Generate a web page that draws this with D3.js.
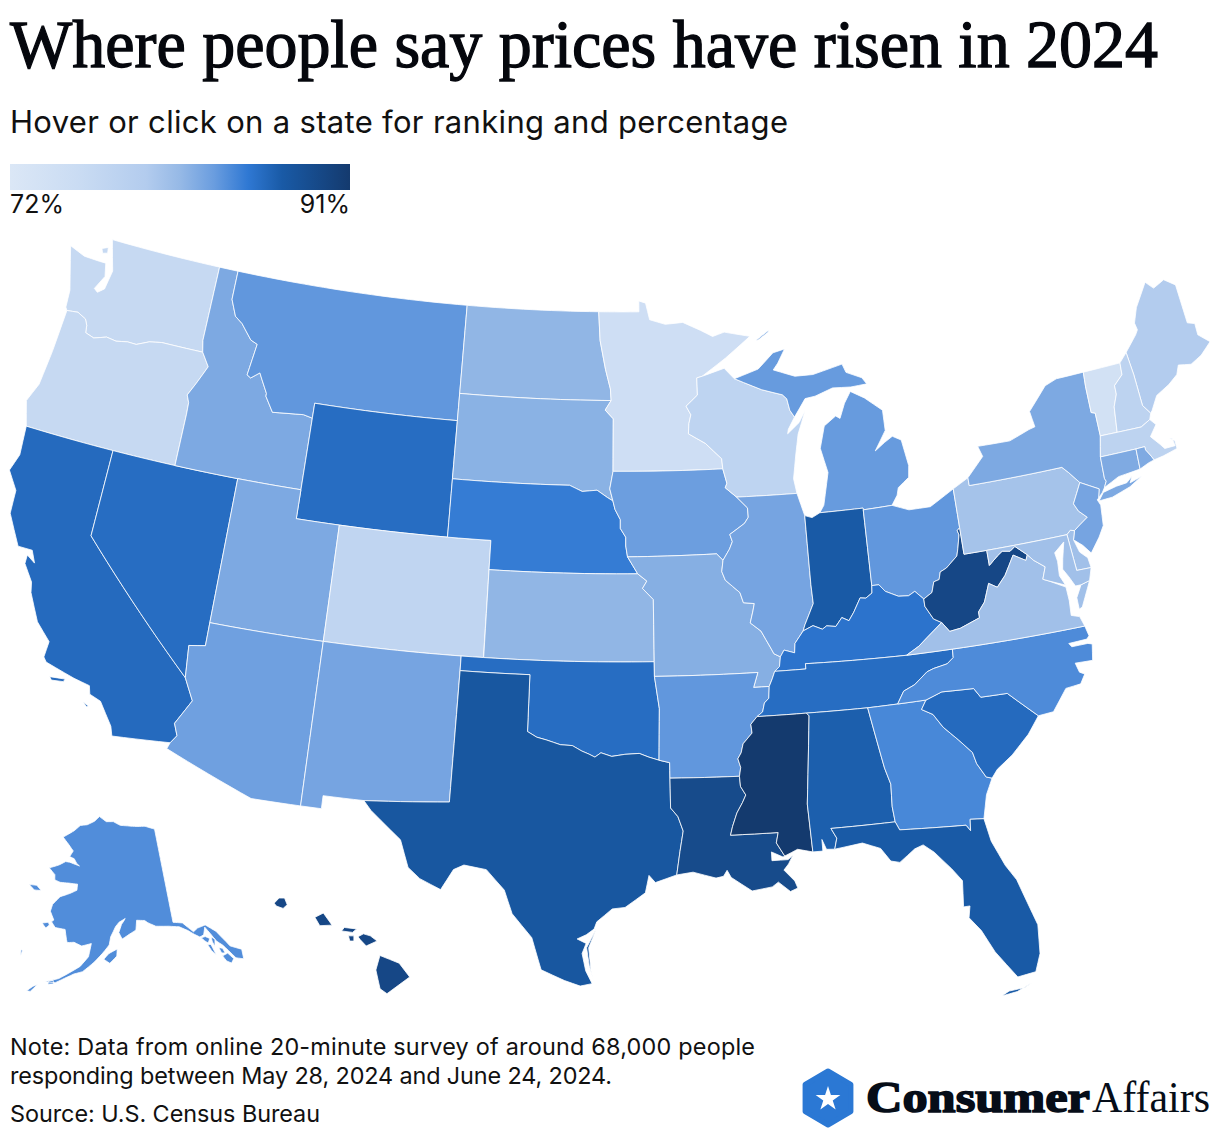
<!DOCTYPE html>
<html><head><meta charset="utf-8">
<script src="https://cdn.jsdelivr.net/npm/d3@7"></script>
<style>html,body{margin:0;padding:0;background:#fff}svg{display:block}</style></head>
<body><svg id="c" width="1220" height="1138"></svg>
<script>
const titleText="Where people say prices have risen in 2024";
const subtitleText="Hover or click on a state for ranking and percentage";
const noteLines=["Note: Data from online 20-minute survey of around 68,000 people","responding between May 28, 2024 and June 24, 2024."];
const noteWidths=[745,602];
const sourceText="Source: U.S. Census Bureau";
const legendLabels=["72%","91%"];
const legendDomain=[72,91];
const colorStops=[72,75.8,79.6,81.5,83.4,85.3,87.2,91];
const colorRange=["#dbe7f6","#cadcf3","#b3ccee","#96b9e6","#6a9ddf","#2f78d3","#195aa6","#143a6e"];
const stateCodes=["WA","OR","CA","NV","ID","MT","WY","UT","CO","AZ","NM","ND","SD","NE","KS","OK","TX","MN","IA","MO","AR","LA","WI","IL","MI","IN","OH","KY","TN","MS","AL","GA","FL","SC","NC","WV","VA","PA","NY","NJ","DE","MD","ME","VT","NH","MA","CT","RI","AK","HI"];
const stateValues=[76.5,76.5,86.2,86,82.6,83.7,86,82.6,77.5,83.2,82.9,81.7,82,85.1,81.7,86,87.6,75,83.3,82.2,83.7,89,77.7,82.9,83.5,87.2,83.7,85.6,86,91,86.9,84.5,87.2,86.2,84.3,89.4,80.8,80.5,82.6,82.9,80.8,80.8,79.6,74,78,78,82.5,82.5,84.2,89.4];

// shared boundaries, longitude/latitude
const stCroix=[[-92.02,46.71],[-92.29,46.66],[-92.29,46.07],[-92.87,45.7],[-92.65,45.4],[-92.76,45.1],[-92.8,44.75],[-92.0,44.4],[-91.25,43.85],[-91.22,43.5]];
const wiIa=[[-91.22,43.5],[-91.06,43.0],[-91.15,42.85],[-90.64,42.51]];
const iaIl=[[-90.64,42.51],[-90.16,42.12],[-90.15,41.8],[-90.34,41.6],[-91.05,41.25],[-90.95,41.0],[-91.1,40.75],[-91.42,40.38]];
const moIl=[[-91.42,40.38],[-91.5,40.0],[-91.36,39.7],[-90.73,39.25],[-90.6,38.9],[-90.12,38.85],[-90.2,38.6],[-90.35,38.2],[-89.9,37.9],[-89.52,37.3],[-89.4,37.1],[-89.13,36.98]];
const moKyTn=[[-89.13,36.98],[-89.2,36.65],[-89.42,36.5],[-89.55,36.25],[-89.7,36.0]];
const arTn=[[-89.7,36.0],[-89.75,35.6],[-89.95,35.45],[-90.05,35.15],[-90.3,35.0]];
const arMs=[[-90.3,35.0],[-90.58,34.75],[-90.55,34.45],[-90.95,34.1],[-91.05,33.8],[-91.2,33.6],[-91.1,33.3],[-91.17,33.0]];
const laMs=[[-91.17,33.0],[-91.15,32.65],[-90.95,32.35],[-91.1,32.1],[-91.35,31.75],[-91.55,31.3],[-91.65,31.0],[-89.73,31.0],[-89.83,30.65],[-89.53,30.18]];
const ilKy=[[-89.13,36.98],[-88.95,37.2],[-88.5,37.08],[-88.45,37.4],[-88.05,37.8]];
const inKy=[[-88.05,37.8],[-87.6,37.95],[-87.2,37.8],[-87.0,37.9],[-86.6,37.85],[-86.3,38.13],[-86.0,38.0],[-85.75,38.27],[-85.4,38.73],[-85.15,38.7],[-84.85,38.85],[-84.82,39.1]];
const ohKy=[[-84.82,39.1],[-84.5,39.1],[-84.25,38.85],[-83.7,38.63],[-83.25,38.6],[-82.95,38.72],[-82.6,38.42]];
const ohWv=[[-82.6,38.42],[-82.2,38.6],[-82.05,38.95],[-81.8,39.0],[-81.7,39.25],[-81.4,39.35],[-80.85,39.7],[-80.75,39.95],[-80.6,40.4],[-80.65,40.55],[-80.52,40.64]];
const kyWv=[[-82.6,38.42],[-82.6,38.17],[-82.3,37.7],[-81.97,37.54]];
const kyVa=[[-81.97,37.54],[-82.7,37.1],[-83.1,36.85],[-83.68,36.6]];
const kyTn=[[-83.68,36.6],[-86.5,36.65],[-88.07,36.68],[-88.07,36.5],[-89.42,36.5]];
const tnVa=[[-83.68,36.6],[-81.68,36.59]];
const vaNc=[[-81.68,36.59],[-75.87,36.55]];
const tnNc=[[-81.68,36.59],[-81.7,36.3],[-82.0,36.12],[-82.6,36.03],[-82.9,35.95],[-83.5,35.57],[-84.0,35.4],[-84.32,34.99]];
const tnGa=[[-84.32,34.99],[-85.6,34.98]];
const tnAl=[[-85.6,34.98],[-88.2,35.0]];
const tnMs=[[-88.2,35.0],[-90.3,35.0]];
const ncGa=[[-84.32,34.99],[-83.11,35.0]];
const ncSc=[[-83.11,35.0],[-82.4,35.2],[-81.04,35.15],[-80.8,34.82],[-79.67,34.8],[-78.55,33.86]];
const gaSc=[[-83.11,35.0],[-83.35,34.7],[-82.9,34.48],[-82.55,34.0],[-82.0,33.5],[-81.5,33.0],[-81.4,32.6],[-81.1,32.1],[-80.87,32.03]];
const gaAl=[[-85.6,34.98],[-85.18,32.87],[-85.0,32.3],[-85.05,31.53],[-85.0,31.0]];
const gaFl=[[-85.0,31.0],[-84.86,30.71],[-82.2,30.57],[-82.05,30.36],[-82.0,30.75],[-81.45,30.7]];
const alFl=[[-85.0,31.0],[-87.6,31.0],[-87.4,30.65],[-87.52,30.28]];
const alMs=[[-88.2,35.0],[-88.1,34.9],[-88.47,31.9],[-88.4,30.25]];
const inIl=[[-88.05,37.8],[-87.95,38.0],[-87.5,38.7],[-87.53,39.35],[-87.53,41.71]];
const inOh=[[-84.82,39.1],[-84.8,41.7]];
const inMi=[[-86.82,41.76],[-84.8,41.76]];
const ohMi=[[-84.8,41.7],[-83.45,41.73]];
const ohPa=[[-80.52,41.98],[-80.52,40.64]];
const paWv=[[-80.52,40.64],[-80.52,39.72],[-79.48,39.72]];
const paMd=[[-79.48,39.72],[-75.79,39.72]];
const paDe=[[-75.79,39.72],[-75.6,39.84],[-75.42,39.8]];
const paNj=[[-75.42,39.8],[-75.13,39.95],[-74.72,40.15],[-75.05,40.42],[-75.2,40.7],[-74.7,41.36]];
const paNy=[[-74.7,41.36],[-75.1,41.77],[-75.36,42.0],[-79.76,42.0],[-79.76,42.27],[-80.52,41.98]];
const nyNj=[[-74.7,41.36],[-73.9,41.0],[-74.02,40.7]];
const wvMd=[[-77.72,39.32],[-78.2,39.68],[-78.45,39.55],[-78.8,39.6],[-79.05,39.47],[-79.48,39.2],[-79.48,39.72]];
const wvVa=[[-81.97,37.54],[-81.68,37.2],[-81.2,37.25],[-80.3,37.5],[-80.3,37.7],[-79.97,38.0],[-79.65,38.6],[-79.3,38.42],[-78.87,38.77],[-78.35,39.4],[-77.83,39.14],[-77.72,39.32]];
const potomac=[[-76.32,37.98],[-77.0,38.3],[-77.25,38.4],[-77.04,38.8],[-77.5,39.1],[-77.72,39.32]];
const miWi=[[-87.6,45.1],[-87.8,45.35],[-87.9,45.75],[-88.1,45.9],[-89.1,46.13],[-90.42,46.57]];
const ndMn=[[-96.56,45.93],[-96.6,46.33],[-96.85,47.0],[-97.14,48.0],[-97.23,49.0]];
const sdMn=[[-96.45,43.5],[-96.45,45.3],[-96.85,45.6],[-96.56,45.93]];
const mnIa=[[-96.45,43.5],[-91.22,43.5]];
const iaMo=[[-91.42,40.38],[-91.7,40.61],[-95.77,40.58]];
const neIa=[[-95.77,40.58],[-95.85,40.95],[-95.85,41.25],[-96.1,41.55],[-96.1,41.85],[-96.35,42.2],[-96.45,42.49]];
const sdIa=[[-96.45,42.49],[-96.6,42.9],[-96.45,43.5]];
const sdNe=[[-96.45,42.49],[-96.7,42.6],[-97.2,42.85],[-97.9,42.8],[-98.5,43.0],[-104.05,43.0]];
const neMo=[[-95.31,40.0],[-95.77,40.58]];
const ksMo=[[-95.31,40.0],[-94.9,39.75],[-95.1,39.5],[-94.62,39.12],[-94.62,37.0]];
const moAr=[[-94.62,36.5],[-90.15,36.5],[-90.37,36.0],[-89.7,36.0]];
const arOk=[[-94.62,36.5],[-94.43,35.4],[-94.48,33.64]];
const arTx=[[-94.48,33.64],[-94.04,33.55],[-94.04,33.02]];
const arLa=[[-94.04,33.02],[-91.17,33.0]];
const txLa=[[-94.04,33.02],[-94.04,32.0],[-93.75,31.7],[-93.55,31.2],[-93.7,30.5],[-93.85,29.7]];
const redRiver=[[-94.48,33.64],[-94.9,33.75],[-95.3,33.88],[-95.9,33.85],[-96.45,33.78],[-96.9,33.9],[-97.15,33.75],[-97.4,33.85],[-97.7,33.95],[-98.1,34.13],[-98.6,34.15],[-99.2,34.3],[-99.6,34.38],[-100.0,34.56]];
const idMt=[[-116.05,49.0],[-116.05,48.0],[-115.7,47.45],[-115.3,47.25],[-114.7,46.75],[-114.35,46.65],[-114.45,46.1],[-114.55,45.55],[-114.35,45.47],[-113.95,45.7],[-113.8,45.5],[-113.45,45.05],[-113.45,44.95],[-113.0,44.45],[-112.3,44.5],[-111.5,44.55],[-111.05,44.48]];
const idOr=[[-116.92,46.0],[-116.5,45.55],[-116.9,44.9],[-117.2,44.45],[-117.05,44.2],[-117.03,43.8],[-117.03,42.0]];
const orWa=[[-123.95,46.2],[-123.4,46.25],[-122.95,46.1],[-122.8,45.9],[-122.75,45.65],[-122.3,45.55],[-121.7,45.7],[-121.2,45.65],[-120.65,45.73],[-120.2,45.72],[-119.6,45.92],[-119.0,46.0],[-116.92,46.0]];
const caNv=[[-120,42],[-120,39],[-114.63,35.0]];
const nvAz=[[-114.05,37],[-114.05,36.2],[-114.75,36.1],[-114.63,35.0]];
const azCa=[[-114.63,35.0],[-114.15,34.27],[-114.7,33.4],[-114.5,33.0],[-114.72,32.72]];
const vtNh=[[-71.5,45.01],[-71.55,44.6],[-72.03,44.3],[-72.05,44.0],[-72.3,43.6],[-72.46,42.73]];
const nyVt=[[-73.34,45.01],[-73.4,44.5],[-73.43,43.6],[-73.25,43.55],[-73.27,42.75]];
const meNh=[[-71.08,45.3],[-71.0,44.5],[-70.98,43.4],[-70.7,43.07]];
const maNh=[[-72.46,42.73],[-71.3,42.7],[-70.82,42.87]];
const maRi=[[-71.8,42.02],[-71.38,42.02],[-71.38,41.9],[-71.2,41.65],[-71.12,41.5]];
const ctRi=[[-71.8,42.02],[-71.85,41.32]];
const maCt=[[-73.5,42.05],[-71.8,42.02]];
const nyCt=[[-73.5,42.05],[-73.55,41.3],[-73.5,41.2],[-73.65,41.0]];
const R=a=>a.slice().reverse();
const J=(...p)=>p.flat();

const rings={
WA:[J([[-124.73,48.38],[-123.9,48.17],[-123.1,48.15],[-122.75,48.15],[-122.6,47.7],[-122.95,47.2],[-122.75,47.1],[-122.45,47.28],[-122.38,47.6],[-122.3,47.95],[-122.5,48.4],[-122.76,49.0],[-117.03,49.0],[-117.04,46.4]],R(orWa),[[-124.05,46.3],[-124.1,46.9],[-124.73,48.38]]),[[-123.15,48.6],[-122.85,48.7],[-122.8,48.5],[-123.05,48.45]]],
OR:[J([[-124.2,42],[-124.55,42.84],[-124.2,43.5],[-124.05,44.7]],orWa,idOr,[[-120,42]])],
CA:[J(caNv,azCa,[[-117.12,32.53],[-117.25,32.85],[-117.9,33.6],[-118.4,33.75],[-118.5,34.03],[-119.2,34.15],[-120.5,34.45],[-120.65,34.6],[-120.6,35.15],[-121.3,35.7],[-121.9,36.6],[-122.0,36.95],[-122.5,37.5],[-122.5,37.8],[-122.1,37.6],[-122.35,38.0],[-123.0,38.0],[-123.75,39.0],[-123.8,39.8],[-124.35,40.4],[-124.1,41.0],[-124.2,42]]),[[-120.2,34.0],[-119.55,34.05],[-119.6,33.95],[-120.1,33.9]],[[-118.6,33.45],[-118.35,33.35],[-118.4,33.3]]],
NV:[J(caNv,R(nvAz),[[-114.04,42]])],
ID:[J([[-117.03,49.0]],idMt,[[-111.05,42.0]],R(idOr),[[-117.04,46.4]])],
MT:[J(idMt,[[-111.05,45.0],[-104.05,45.0],[-104.05,49.0]])],
WY:[[[-111.05,45],[-104.05,45],[-104.05,41],[-111.05,41]]],
UT:[[[-114.04,42],[-111.05,42],[-111.05,41],[-109.05,41],[-109.05,37],[-114.05,37]]],
CO:[[[-109.05,41],[-102.05,41],[-102.05,37],[-109.05,37]]],
AZ:[J([[-109.05,37],[-109.05,31.33],[-111.07,31.33],[-114.81,32.5]],R(azCa),R(nvAz))],
NM:[[[-109.05,37],[-103.02,37],[-103.06,32.0],[-106.53,31.78],[-108.2,31.78],[-108.2,31.33],[-109.05,31.33]]],
ND:[J(ndMn,[[-104.05,49],[-104.05,45.94]])],
SD:[J([[-104.05,45.94]],R(sdMn),R(sdIa),sdNe)],
NE:[J(sdNe,[[-104.05,41],[-102.05,41],[-102.05,40]],neMo,neIa)],
KS:[J([[-102.05,40]],ksMo,[[-102.04,37]])],
OK:[J([[-103.02,37],[-94.62,37]],arOk,redRiver,[[-100,36.5],[-103.02,36.5]])],
TX:[J([[-103.02,36.5],[-100,36.5]],R(redRiver),arTx,txLa,[[-94.7,29.45],[-94.95,29.7],[-95.1,29.1],[-95.9,28.6],[-96.4,28.55],[-97.0,28.1],[-97.1,27.85],[-97.4,27.65],[-97.75,27.5],[-97.4,27.35],[-97.55,27.0],[-97.4,26.4],[-97.15,25.96],[-97.6,25.87],[-98.2,26.05],[-99.1,26.4],[-99.5,27.5],[-100.3,28.3],[-100.65,29.1],[-101.4,29.77],[-102.3,29.88],[-102.7,29.7],[-103.15,28.98],[-104.0,29.3],[-104.5,29.65],[-104.9,30.57],[-106.2,31.47],[-106.53,31.78],[-103.06,32.0]]),[[-97.02,27.85],[-97.3,27.2],[-97.2,26.4],[-97.1,26.05],[-97.27,26.6],[-97.38,27.2]]],
MN:[J([[-97.23,49.0],[-95.15,49.0],[-95.15,49.38],[-94.8,49.3],[-94.6,48.72],[-93.8,48.55],[-92.9,48.6],[-92.0,48.3],[-91.4,48.07],[-90.8,48.2],[-89.5,48.0],[-90.8,47.3]],stCroix,R(mnIa),sdMn,ndMn)],
IA:[J(mnIa,wiIa,iaIl,iaMo,neIa,sdIa)],
MO:[J(R(iaMo),moIl,moKyTn,R(moAr),[[-94.62,37]],R(ksMo),neMo)],
AR:[J(moAr,arTn,arMs,R(arLa),R(arTx),R(arOk))],
LA:[J(arLa,laMs,[[-89.6,30.15],[-90.05,30.35],[-90.05,30.05],[-89.7,30.05],[-89.4,30.05],[-89.2,30.2],[-89.4,29.9],[-89.6,29.7],[-89.2,29.3],[-89.1,29.05],[-89.4,28.95],[-89.85,29.3],[-90.1,29.15],[-90.9,29.05],[-91.3,29.3],[-91.7,29.55],[-91.85,29.8],[-92.0,29.6],[-92.3,29.55],[-93.2,29.78]],R(txLa))],
WI:[J([[-90.42,46.57]],R(miWi),[[-87.95,44.7],[-88.0,44.55],[-87.4,44.9],[-87.05,45.3],[-87.5,44.5],[-87.7,43.8],[-87.9,43.0],[-87.8,42.49]],R(iaIl.slice(0,1)),R(wiIa),R(stCroix),[[-90.9,46.95]])],
IL:[J([[-87.8,42.49]],R(inIl),R(ilKy),R(moIl),R(iaIl))],
IN:[J(inIl,[[-87.2,41.62]],inMi,R(inOh),R(inKy))],
OH:[J(inOh,ohMi,[[-82.7,41.5],[-81.7,41.5]],ohPa,R(ohWv),R(ohKy))],
KY:[J(inKy,ohKy,kyWv,kyVa,kyTn,R(moKyTn.slice(0,2)),ilKy)],
TN:[J(kyTn,[[-89.55,36.25]],arTn,R(tnMs),R(tnAl),R(tnGa),R(tnNc),R(tnVa))],
MS:[J(tnMs,arMs,laMs,[[-89.0,30.38]],R(alMs))],
AL:[J(tnAl,alMs,[[-88.0,30.25],[-88.0,30.65],[-87.85,30.3]],R(alFl),R(gaAl))],
GA:[J(R(tnGa),ncGa,gaSc,[[-81.2,31.5]],R(gaFl),R(gaAl))],
FL:[J(alFl,[[-86.4,30.4],[-85.7,30.15],[-85.35,29.68],[-85.0,29.6],[-84.35,30.0],[-84.0,30.1],[-83.6,29.8],[-83.0,29.15],[-82.65,28.7],[-82.75,27.8],[-82.5,27.8],[-82.6,27.4],[-82.2,26.9],[-81.8,26.1],[-81.1,25.12],[-80.4,25.2],[-80.13,25.8],[-80.03,26.8],[-80.55,28.45],[-80.9,29.0],[-81.3,29.9]],R(gaFl)),[[-81.8,24.55],[-81.2,24.62],[-80.6,24.85],[-80.9,24.72],[-81.5,24.68]]],
SC:[J(ncSc,[[-79.1,33.3],[-79.9,32.7],[-80.6,32.3]],R(gaSc))],
NC:[J(vaNc,[[-75.78,36.2],[-75.9,36.1],[-76.7,36.08],[-76.6,35.95],[-75.9,35.95],[-75.72,35.9],[-75.85,35.35],[-76.6,35.38],[-76.5,35.05],[-76.3,34.95],[-76.55,34.65],[-77.2,34.6],[-77.9,33.9]],R(ncSc),R(ncGa),R(tnNc))],
WV:[J(ohWv,paWv,R(wvMd),R(wvVa),R(kyWv))],
VA:[J(tnVa,vaNc,[[-76.0,36.9],[-76.35,37.0],[-76.3,37.5]],potomac,R(wvVa),kyVa),[[-75.95,37.15],[-75.95,37.55],[-75.65,37.95],[-75.24,38.03],[-75.6,37.5],[-75.8,37.2]]],
PA:[J(ohPa,paWv.slice(1),paMd.slice(1),paDe.slice(1),paNj.slice(1),paNy.slice(1))],
NY:[J([[-78.9,42.9],[-79.05,43.27],[-77.5,43.25],[-76.5,43.5],[-76.2,43.55],[-76.3,44.1],[-75.3,44.85],[-74.7,45.0]],nyVt,[[-73.5,42.05]],nyCt,[[-73.8,40.85],[-73.95,40.75]],R(nyNj),paNy.slice(0,-1)),[[-74.03,40.6],[-73.75,40.85],[-73.1,40.95],[-72.6,40.98],[-72.3,41.15],[-72.45,40.95],[-71.87,41.07],[-72.5,40.82],[-73.4,40.62]]],
NJ:[J(paNj,nyNj,[[-74.1,40.65],[-74.0,40.45],[-74.1,39.75],[-74.4,39.4],[-74.9,38.93],[-75.2,39.25],[-75.55,39.5]])],
DE:[J(paDe,[[-75.55,39.5],[-75.4,39.05],[-75.1,38.8],[-75.05,38.45],[-75.7,38.46]])],
MD:[J(paMd,[[-75.7,38.46],[-75.05,38.45],[-75.24,38.03],[-75.65,37.95],[-75.9,37.95],[-76.1,38.3],[-76.3,38.6],[-76.2,38.95],[-76.0,39.5],[-76.5,39.2],[-76.45,38.9],[-76.5,38.4],[-76.32,38.05]],potomac.slice(1),wvMd)],
ME:[J(meNh,[[-70.6,43.15],[-70.2,43.6],[-69.5,43.85],[-69.0,44.1],[-68.8,44.4],[-68.2,44.3],[-67.6,44.5],[-67.0,44.85],[-67.47,45.2],[-67.45,45.6],[-67.79,45.7],[-67.8,47.07],[-68.3,47.36],[-68.9,47.18],[-69.05,47.3],[-69.23,47.46],[-70.0,46.7],[-70.3,46.2],[-70.25,45.95],[-70.4,45.8]])],
VT:[J(nyVt,R(maNh.slice(0,1)),R(vtNh))],
NH:[J(vtNh,maNh,[[-70.7,43.07]],R(meNh))],
MA:[J([[-73.27,42.75]],maNh,[[-70.6,42.65],[-71.0,42.3],[-70.65,41.95],[-70.5,41.78],[-70.0,41.78],[-70.05,42.05],[-70.2,42.08],[-69.95,41.95],[-69.95,41.67],[-70.65,41.55]],R(maRi),R(maCt))],
CT:[J(maCt,ctRi,[[-72.9,41.25]],R(nyCt))],
RI:[J(maRi,[[-71.4,41.45]],R(ctRi))],
HI:[[[-155.9,20.25],[-155.2,19.98],[-154.82,19.5],[-155.65,18.93],[-155.9,19.1],[-156.05,19.75]],[[-156.7,20.9],[-156.5,21.0],[-156.25,20.93],[-156.0,20.75],[-156.4,20.58],[-156.62,20.8]],[[-157.3,21.1],[-157.2,21.22],[-156.75,21.17],[-156.9,21.05]],[[-157.05,20.93],[-156.85,20.93],[-156.85,20.75],[-157.0,20.75]],[[-158.28,21.57],[-157.97,21.72],[-157.65,21.3],[-158.1,21.28]],[[-159.78,22.05],[-159.6,22.23],[-159.4,22.23],[-159.3,22.0],[-159.45,21.87],[-159.7,21.95]]],
AK:[[[-141,69.65],[-143.5,70.1],[-146,70.2],[-148.5,70.35],[-150.5,70.45],[-152.5,70.85],[-154.5,70.85],[-156.6,71.35],[-158,70.85],[-160,70.45],[-162,70.3],[-163.5,69.7],[-166.2,68.9],[-164.5,68.3],[-163,67.7],[-163.7,67.1],[-162.5,66.95],[-161.7,66.5],[-161,66.3],[-163.5,66.55],[-164.5,66.55],[-166,66.1],[-168.1,65.65],[-166.5,65.1],[-166.3,64.6],[-165,64.45],[-163,64.5],[-161,64.5],[-161,63.9],[-162.5,63.5],[-164.5,63.05],[-165.8,62.2],[-166,61.5],[-165,60.7],[-165.4,60.5],[-164.5,60.0],[-162.5,59.95],[-162,59.0],[-161.8,58.7],[-160.5,58.8],[-159,58.5],[-157.2,58.8],[-157.6,57.5],[-159,56.5],[-160.5,55.9],[-162.5,55.1],[-164.8,54.6],[-163,54.65],[-161.5,55.2],[-160,55.7],[-158.5,56.0],[-156.5,57.0],[-155,57.9],[-153.8,58.7],[-153.5,59.5],[-152.5,60.5],[-151.8,60.9],[-150.5,61.25],[-150.9,60.95],[-151.3,60.7],[-151.9,59.9],[-151.3,59.25],[-149.8,59.7],[-148.5,60.05],[-148.2,61],[-146.6,60.9],[-146,60.65],[-144.5,60.2],[-142,60],[-140,59.75],[-138.5,59.2],[-137.5,58.7],[-136.6,58.3],[-135.8,58.4],[-135.2,59.1],[-134.5,58.3],[-133.9,57.5],[-133.0,56.9],[-132.3,56.2],[-131.5,55.3],[-130.3,54.95],[-130.05,55.9],[-131.8,56.6],[-132.2,57.1],[-133.4,58.4],[-135,59.3],[-136.6,59.2],[-137.5,58.95],[-139.2,60.05],[-141,60.3]],
[[-154.8,57.3],[-153.9,57.85],[-152.3,58.3],[-152.4,57.6],[-153.7,56.9]],
[[-167.2,60.2],[-166,60.4],[-165.7,60.15],[-166.3,59.8]],
[[-171.7,63.6],[-170,63.7],[-168.8,63.3],[-170.3,63.2]],
[[-136.4,58.2],[-135.6,58.2],[-134.9,57.9],[-135.4,57.5],[-135.9,57.8]],
[[-135.6,57.4],[-135,57.3],[-134.6,56.2],[-135.2,56.7]],
[[-134.6,58.0],[-134,57.7],[-134.4,57.0],[-134.6,57.5]],
[[-133.8,56.8],[-133.2,56.6],[-133,56.1],[-133.6,56.2]],
[[-133.6,55.9],[-132.6,56.0],[-131.9,55.3],[-132.5,54.95],[-133.2,55.3]],
[[-170,57.2],[-169.7,57.2],[-169.8,56.6]],
[[-166.6,53.95],[-165.9,54.2],[-166.9,53.4],[-167.5,53.4]],
[[-164.2,54.7],[-163.4,54.85],[-163.3,54.5],[-164.2,54.4]]],
MI:[J(inMi,ohMi,[[-83.15,42.05],[-83.05,42.3],[-82.5,42.6],[-82.42,43.0],[-82.6,43.9],[-83.0,44.07],[-83.4,43.9],[-83.9,43.65],[-83.3,44.3],[-83.3,45.0],[-84.1,45.5],[-84.75,45.78],[-85.1,45.4],[-85.4,44.9],[-85.6,45.0],[-86.2,44.7],[-86.5,43.95],[-86.25,43.1],[-86.6,42.0]]),J(miWi,[[-89.2,46.85],[-88.4,47.37],[-87.8,47.47],[-88.2,47.0],[-88.45,46.78],[-87.4,46.5],[-86.5,46.5],[-85.0,46.75],[-84.85,46.45],[-84.1,46.2],[-83.9,45.97],[-84.7,45.93],[-85.6,45.97],[-86.5,45.75],[-87.0,45.7]]),[[-89.2,47.85],[-88.5,48.17],[-88.55,48.1],[-89.1,47.85]]]
};

function dens(r){const o=[];r.forEach((p,i)=>{const q=r[(i+1)%r.length],n=Math.max(1,Math.ceil(Math.max(Math.abs(q[0]-p[0]),Math.abs(q[1]-p[1]))/0.5));for(let k=0;k<n;k++)o.push([p[0]+(q[0]-p[0])*k/n,p[1]+(q[1]-p[1])*k/n]);});o.push(o[0]);return o;}
function feat(code,value){const coords=rings[code].map(r=>{let d=dens(r);if(d3.geoArea({type:"Polygon",coordinates:[d]})>2*Math.PI)d=d.reverse();return [d];});return {type:"Feature",properties:{code,value},geometry:{type:"MultiPolygon",coordinates:coords}};}
const features=stateCodes.map((c,i)=>feat(c,stateValues[i]));

const color=d3.scaleLinear().domain(colorStops).range(colorRange);
const svg=d3.select("#c");
const projection=d3.geoAlbersUsa().scale(1666).translate([609,612]);
const path=d3.geoPath(projection);
svg.append("g").selectAll("path").data(features).join("path").attr("d",path).attr("fill",d=>color(d.properties.value)).attr("stroke","#fff").attr("stroke-width",0.8).attr("stroke-linejoin","round");

svg.append("text").attr("x",10).attr("y",67).attr("font-family","Liberation Serif").attr("font-size",67).attr("fill","#05070d").attr("stroke","#05070d").attr("stroke-width",1.3).attr("textLength",1148).attr("lengthAdjust","spacingAndGlyphs").text(titleText);
const sans="Inter";
svg.append("text").attr("x",10).attr("y",133).attr("font-family",sans).attr("font-size",31).attr("fill","#111").attr("textLength",778).text(subtitleText);

const lx=d3.scaleLinear().domain(legendDomain).range([10,350]);
const grad=svg.append("defs").append("linearGradient").attr("id","lg");
colorStops.forEach((v,i)=>grad.append("stop").attr("offset",(v-72)/19).attr("stop-color",colorRange[i]));
svg.append("rect").attr("x",lx(72)).attr("y",164).attr("width",lx(91)-lx(72)).attr("height",26).attr("fill","url(#lg)");
svg.append("text").attr("x",lx(72)).attr("y",213).attr("font-family",sans).attr("font-size",25).attr("fill","#111").text(legendLabels[0]);
svg.append("text").attr("x",lx(91)).attr("y",213).attr("text-anchor","end").attr("font-family",sans).attr("font-size",25).attr("fill","#111").text(legendLabels[1]);

noteLines.forEach((t,i)=>svg.append("text").attr("x",10).attr("y",1055+i*28.5).attr("font-family",sans).attr("font-size",23.4).attr("fill","#111").attr("textLength",noteWidths[i]).text(t));
svg.append("text").attr("x",10).attr("y",1122).attr("font-family",sans).attr("font-size",23.4).attr("fill","#111").attr("textLength",310).text(sourceText);

// logo
const logo=svg.append("g");
const hx=828,hy=1098,hr=27;
const hex=d3.range(6).map(i=>{const a=Math.PI/3*i-Math.PI/2;return [hx+hr*Math.cos(a)*0.98,hy+hr*Math.sin(a)];});
logo.append("path").attr("d",d3.line().curve(d3.curveLinearClosed)(hex)).attr("fill","#2b78d4").attr("stroke","#2b78d4").attr("stroke-width",5).attr("stroke-linejoin","round");
logo.append("path").attr("d",d3.symbol(d3.symbolStar,190)()).attr("transform",`translate(${hx},${hy+1})`).attr("fill","#fff");
logo.append("text").attr("x",866).attr("y",1112).attr("font-family","Liberation Serif").attr("font-weight",700).attr("font-size",45).attr("fill","#060d18").attr("stroke","#060d18").attr("stroke-width",1.6).attr("textLength",224).attr("lengthAdjust","spacingAndGlyphs").text("Consumer");
logo.append("text").attr("x",1092).attr("y",1112).attr("font-family","Liberation Serif").attr("font-size",45).attr("fill","#060d18").attr("textLength",118).attr("lengthAdjust","spacingAndGlyphs").text("Affairs");
</script></body></html>
